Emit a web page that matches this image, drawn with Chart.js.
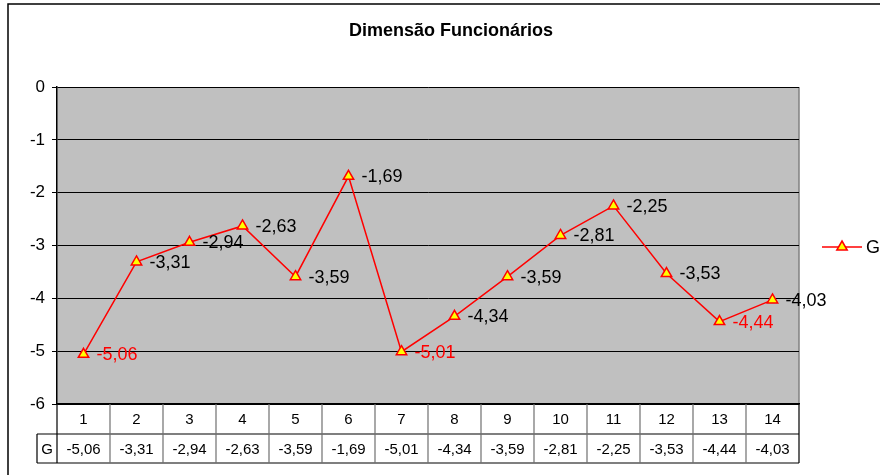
<!DOCTYPE html>
<html>
<head>
<meta charset="utf-8">
<script src="https://cdn.jsdelivr.net/npm/chart.js@4"></script>
<style>
  html, body { margin: 0; padding: 0; background: #fff; }
  #wrap { width: 880px; height: 475px; }
</style>
</head>
<body>
<div id="wrap"><canvas id="myLineChart" width="880" height="475"></canvas></div>
<script>
// Chart data
var categories = ["1", "2", "3", "4", "5", "6", "7", "8", "9", "10", "11", "12", "13", "14"];
var seriesName = "G";
var gValues = [-5.06, -3.31, -2.94, -2.63, -3.59, -1.69, -5.01, -4.34, -3.59, -2.81, -2.25, -3.53, -4.44, -4.03];
var yTicks = [0, -1, -2, -3, -4, -5, -6];
var redLabels = [0, 6, 12]; // labels shown in red

var FONT = "'Liberation Sans', Arial, sans-serif";

function fmt(v) {
  return v.toFixed(2).replace(".", ",");
}

// Frame, title, plot background, data labels, legend and data table
var excelLook = {
  id: "excelLook",
  beforeDraw: function(chart) {
    var ctx = chart.ctx, a = chart.chartArea;
    ctx.save();
    ctx.fillStyle = "#fff";
    ctx.fillRect(0, 0, chart.width, chart.height);
    // outer frame
    ctx.strokeStyle = "#000";
    ctx.lineWidth = 1.5;
    ctx.strokeRect(8, 4, chart.width + 20, chart.height + 20);
    // plot area
    ctx.fillStyle = "#c0c0c0";
    ctx.fillRect(a.left, a.top, a.right - a.left, a.bottom - a.top);
    ctx.strokeStyle = "#808080";
    ctx.lineWidth = 1.5;
    ctx.beginPath();
    ctx.moveTo(a.right, a.top);
    ctx.lineTo(a.right, a.bottom);
    ctx.stroke();
    // title
    ctx.fillStyle = "#000";
    ctx.font = "bold 18px " + FONT;
    ctx.textAlign = "center";
    ctx.textBaseline = "middle";
    ctx.fillText("Dimensão Funcionários", 451, 31);
    ctx.restore();
  },
  afterDatasetsDraw: function(chart) {
    var ctx = chart.ctx, a = chart.chartArea;
    var meta = chart.getDatasetMeta(0);
    var xs = chart.scales.x;
    ctx.save();

    // data labels
    ctx.font = "18px " + FONT;
    ctx.textAlign = "left";
    ctx.textBaseline = "middle";
    meta.data.forEach(function(pt, i) {
      ctx.fillStyle = redLabels.indexOf(i) >= 0 ? "#ff0000" : "#000";
      ctx.fillText(fmt(gValues[i]), pt.x + 13, pt.y + 1);
    });

    // legend
    var ly = 247;
    ctx.strokeStyle = "#ff0000";
    ctx.lineWidth = 1.5;
    ctx.beginPath();
    ctx.moveTo(822, ly);
    ctx.lineTo(862, ly);
    ctx.stroke();
    ctx.beginPath();
    ctx.moveTo(842, ly - 6);
    ctx.lineTo(847.2, ly + 3);
    ctx.lineTo(836.8, ly + 3);
    ctx.closePath();
    ctx.fillStyle = "#ffff00";
    ctx.fill();
    ctx.stroke();
    ctx.fillStyle = "#000";
    ctx.font = "18px " + FONT;
    ctx.fillText(seriesName, 866, ly + 1);

    // data table
    var row1 = a.bottom, row2 = a.bottom + 30, row3 = a.bottom + 59;
    var keyLeft = 37;
    var w = (a.right - a.left) / categories.length;
    ctx.strokeStyle = "#000";
    ctx.lineWidth = 1.2;
    ctx.beginPath();
    ctx.moveTo(keyLeft, row2); ctx.lineTo(a.right, row2);
    ctx.moveTo(keyLeft, row3); ctx.lineTo(a.right, row3);
    ctx.moveTo(keyLeft, row2); ctx.lineTo(keyLeft, row3);
    ctx.moveTo(a.left, row1); ctx.lineTo(a.left, row3);
    ctx.moveTo(a.right, row1); ctx.lineTo(a.right, row3);
    ctx.stroke();
    ctx.strokeStyle = "#707070";
    ctx.beginPath();
    for (var i = 1; i < categories.length; i++) {
      var bx = a.left + w * i;
      ctx.moveTo(bx, row1);
      ctx.lineTo(bx, row3);
    }
    ctx.stroke();

    ctx.fillStyle = "#000";
    ctx.font = "15px " + FONT;
    ctx.textAlign = "center";
    categories.forEach(function(c, i) {
      var cx = xs.getPixelForValue(i);
      ctx.fillText(c, cx, (row1 + row2) / 2 + 1);
      ctx.fillText(fmt(gValues[i]), cx, (row2 + row3) / 2 + 1);
    });
    ctx.fillText(seriesName, (keyLeft + a.left) / 2, (row2 + row3) / 2 + 1);
    ctx.restore();
  }
};

var Linectx = document.getElementById("myLineChart").getContext("2d");

var myChart = new Chart(Linectx, {
  type: "line",
  data: {
    labels: categories,
    datasets: [{
      label: seriesName,
      data: gValues,
      borderColor: "#ff0000",
      borderWidth: 1.5,
      lineTension: 0,
      pointStyle: "triangle",
      pointRadius: 6,
      pointBorderWidth: 1.5,
      pointBorderColor: "#ff0000",
      pointBackgroundColor: "#ffff00"
    }]
  },
  options: {
    responsive: false,
    animation: false,
    events: [],
    layout: { padding: { top: 87, right: 81, left: 0, bottom: 0 } },
    plugins: {
      legend: { display: false },
      title: { display: false },
      tooltip: { enabled: false }
    },
    scales: {
      x: {
        type: "category",
        offset: true,
        grid: { display: false },
        border: { display: true, color: "#000", width: 1.5 },
        ticks: { display: false },
        afterFit: function(scale) { scale.height = 71; }
      },
      y: {
        min: yTicks[yTicks.length - 1],
        max: yTicks[0],
        afterBuildTicks: function(scale) {
          scale.ticks = yTicks.map(function(v) { return { value: v }; });
        },
        grid: { color: "#000", lineWidth: 1, tickColor: "#000", tickLength: 5 },
        border: { display: true, color: "#000", width: 1.5 },
        ticks: {
          color: "#000",
          padding: 7,
          font: { family: FONT, size: 17 },
          callback: function(v) { return String(v); }
        },
        afterFit: function(scale) { scale.width = 57; }
      }
    }
  },
  plugins: [excelLook]
});
</script>
</body>
</html>
